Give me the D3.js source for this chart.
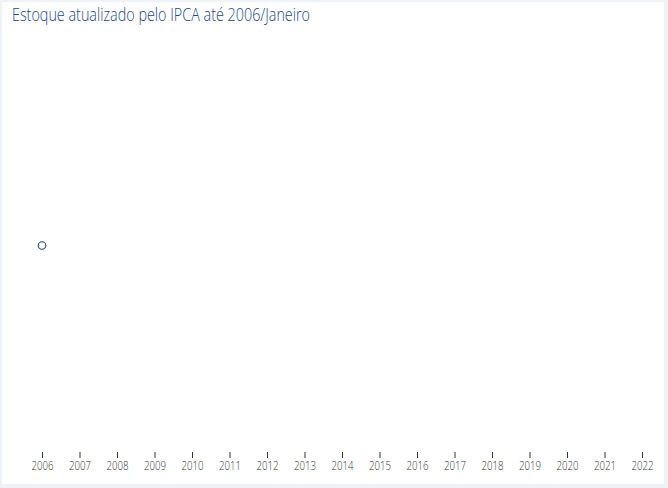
<!DOCTYPE html>
<html><head><meta charset="utf-8">
<script src="https://cdn.jsdelivr.net/npm/d3@7"></script>
<style>
html,body{margin:0;padding:0;background:#fff;}
svg{display:block;}
.t{font-family:"Open Sans","Noto Sans",sans-serif;font-weight:300;}
</style></head>
<body>
<svg id="c" width="668" height="488"></svg>
<script>
const title = "Estoque atualizado pelo IPCA até 2006/Janeiro";
const years = [2006,2007,2008,2009,2010,2011,2012,2013,2014,2015,2016,2017,2018,2019,2020,2021,2022];
const pointYears = [2006];
const pointValues = [1];

const svg = d3.select("#c");
const W = 668, H = 488;
// frame
svg.append("rect").attr("x",0).attr("y",0).attr("width",W).attr("height",H).attr("fill","#eef2f7");
svg.append("rect").attr("x",2).attr("y",2).attr("width",W-6).attr("height",H-6).attr("fill","#fff");

const x = d3.scaleLinear().domain([2006,2022]).range([42,642]);
const y = d3.scaleLinear().domain([0,2]).range([450,41]);

svg.append("text").attr("class","t").attr("x",12).attr("y",21)
  .attr("font-size",18.5).attr("fill","#24467c")
  .attr("textLength",298).attr("lengthAdjust","spacingAndGlyphs").text(title);

const ax = svg.append("g").attr("transform","translate(0,452)")
  .call(d3.axisBottom(x).tickValues(years).tickFormat(d3.format("d")).tickSize(6).tickPadding(3));
ax.select(".domain").remove();
ax.selectAll("line").attr("stroke","#333");
ax.selectAll("text").attr("class","t").attr("font-size",13.5).attr("fill","#333")
  .attr("dy","0.68em")
  .each(function(){
    const el = d3.select(this);
    const w = this.getComputedTextLength();
    el.attr("transform",`scale(${22/w},1)`);
  });

svg.selectAll("circle.p").data(pointYears).join("circle").attr("class","p")
  .attr("cx",d=>x(d)).attr("cy",(d,i)=>y(pointValues[i])).attr("r",3.8)
  .attr("fill","#fff").attr("stroke","#24467c").attr("stroke-width",1.1);
</script>
</body></html>
